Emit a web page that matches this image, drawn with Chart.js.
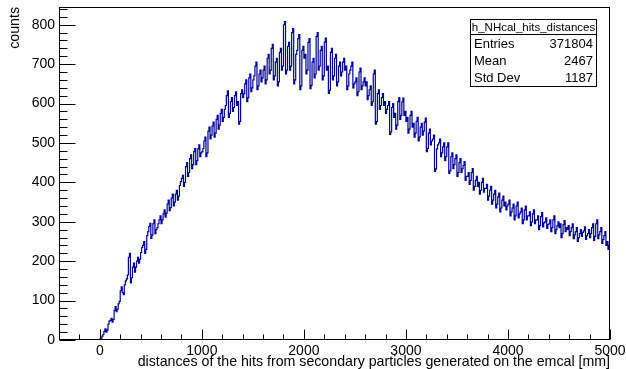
<!DOCTYPE html>
<html>
<head>
<meta charset="utf-8">
<script src="https://cdn.jsdelivr.net/npm/chart.js@4.4.0/dist/chart.umd.min.js"></script>
<style>
  html, body { margin: 0; padding: 0; background: #fff; }
  canvas { display: block; }
</style>
</head>
<body>
<canvas id="myChart" width="626" height="369"></canvas>
<script>
var ctx = document.getElementById('myChart').getContext('2d');

// histogram axis range and binning
var axisMin = -400;
var axisMax = 5000;
var yMax = 845;
var binLow = 0;
var binWidth = 10;

// bin contents, 10 mm bins from 0 to 5000
var counts = [
    2, 5, 10, 14, 22, 28, 20, 25, 40, 48, 50, 55, 45, 52, 75, 85, 72, 78, 92, 98,                      // 0 - 200
    125, 135, 120, 115, 140, 150, 155, 165, 210, 220, 145, 158, 185, 195, 172, 185, 200, 210, 195, 205, // 200 - 400
    222, 235, 240, 250, 220, 230, 265, 275, 288, 296, 258, 266, 295, 305, 270, 280, 285, 295, 305, 315, // 400 - 600
    295, 305, 320, 330, 312, 322, 345, 355, 328, 336, 360, 370, 340, 350, 370, 380, 355, 365, 392, 402, // 600 - 800
    410, 418, 390, 400, 440, 450, 415, 425, 460, 470, 435, 445, 478, 486, 445, 455, 485, 495, 465, 475, // 800 - 1000
    478, 486, 505, 515, 465, 475, 530, 540, 510, 520, 543, 553, 515, 525, 560, 570, 535, 545, 575, 585, // 1000 - 1200
    555, 565, 585, 595, 620, 632, 565, 575, 605, 615, 580, 590, 620, 630, 595, 605, 548, 555, 625, 635, // 1200 - 1400
    615, 625, 650, 660, 605, 615, 665, 675, 630, 640, 660, 670, 695, 705, 635, 645, 675, 685, 655, 665, // 1400 - 1600
    685, 695, 650, 660, 715, 725, 675, 685, 740, 750, 660, 670, 705, 715, 645, 655, 730, 740, 685, 695, // 1600 - 1800
    800, 808, 675, 685, 745, 755, 685, 695, 780, 790, 650, 660, 725, 735, 765, 775, 635, 645, 735, 745, // 1800 - 2000
    715, 725, 675, 685, 755, 765, 638, 646, 705, 715, 665, 675, 770, 780, 685, 695, 735, 745, 660, 670, // 2000 - 2200
    756, 766, 685, 695, 626, 634, 730, 740, 660, 670, 715, 725, 645, 655, 695, 705, 670, 680, 705, 715, // 2200 - 2400
    685, 695, 635, 645, 675, 685, 695, 705, 640, 650, 655, 665, 620, 630, 680, 690, 635, 645, 655, 665, // 2400 - 2600
    645, 655, 610, 620, 635, 645, 595, 605, 675, 685, 548, 554, 625, 635, 585, 595, 615, 625, 595, 605, // 2600 - 2800
    575, 585, 595, 605, 522, 528, 590, 600, 565, 575, 535, 545, 605, 615, 560, 570, 604, 614, 570, 580, // 2800 - 3000
    555, 565, 525, 535, 570, 580, 540, 550, 515, 525, 555, 565, 505, 515, 540, 550, 520, 530, 553, 563, // 3000 - 3200
    478, 486, 525, 535, 495, 505, 510, 520, 428, 434, 485, 495, 500, 510, 465, 475, 490, 500, 455, 465, // 3200 - 3400
    490, 500, 423, 429, 465, 475, 435, 445, 460, 470, 415, 425, 450, 460, 425, 435, 443, 453, 405, 415, // 3400 - 3600
    415, 425, 395, 405, 425, 435, 380, 390, 405, 415, 390, 400, 370, 380, 400, 410, 375, 385, 385, 395, // 3600 - 3800
    355, 365, 380, 390, 345, 355, 370, 380, 335, 345, 363, 373, 325, 335, 355, 365, 340, 350, 330, 340, // 3800 - 4000
    345, 355, 315, 325, 335, 345, 305, 315, 340, 350, 310, 320, 325, 335, 295, 305, 330, 340, 305, 315, // 4000 - 4200
    315, 325, 290, 300, 320, 330, 295, 305, 305, 315, 280, 290, 313, 323, 287, 297, 300, 310, 283, 293, // 4200 - 4400
    295, 305, 275, 285, 305, 315, 270, 280, 290, 300, 285, 295, 260, 270, 293, 303, 275, 285, 280, 290, // 4400 - 4600
    265, 275, 285, 295, 257, 267, 275, 285, 250, 260, 270, 280, 263, 273, 277, 287, 255, 265, 270, 280, // 4600 - 4800
    260, 270, 285, 295, 253, 263, 295, 305, 257, 267, 275, 285, 245, 255, 265, 275, 240, 250, 230, 240  // 4800 - 5000
];

// tick labels
var xTickValues = [0, 1000, 2000, 3000, 4000, 5000];
var yTickValues = [0, 100, 200, 300, 400, 500, 600, 700, 800];

// texts
var xTitle = 'distances of the hits from secondary particles generated on the emcal [mm]';
var yTitle = 'counts';
var statsTitle = 'h_NHcal_hits_distances';
var statsNames = ['Entries', 'Mean', 'Std Dev'];
var statsValues = ['371804', '2467', '1187'];

var lineColor = '#000099';
var fontFamily = '"Liberation Sans", Arial, Helvetica, sans-serif';

// bin low edges -> step points
var points = [{ x: axisMin, y: 0 }];
counts.forEach(function (c, i) {
    points.push({ x: binLow + i * binWidth, y: c });
});
points.push({ x: binLow + counts.length * binWidth, y: counts[counts.length - 1] });

// ROOT-like frame, ticks inside, axis titles and the stats box
var rootFrame = {
    id: 'rootFrame',
    afterDraw: function (chart) {
        var c = chart.ctx;
        var a = chart.chartArea;
        var x = chart.scales.x;
        var y = chart.scales.y;
        var L = Math.round(a.left) + 0.5, R = Math.round(a.right) - 0.5;
        var T = Math.round(a.top) + 0.5, B = Math.round(a.bottom) - 0.5;
        c.save();
        c.strokeStyle = '#000';
        c.lineWidth = 1;
        c.strokeRect(L, T, R - L, B - T);

        c.beginPath();
        for (var v = axisMin; v <= axisMax; v += 200) {
            var px = Math.round(x.getPixelForValue(v)) + 0.5;
            var len = (v % 1000 === 0) ? 10 : 5;
            c.moveTo(px, B);
            c.lineTo(px, B - len);
        }
        for (var w = 0; w <= yMax; w += 20) {
            var py = Math.round(y.getPixelForValue(w)) + 0.5;
            var len2 = (w % 100 === 0) ? 16 : 8;
            c.moveTo(L, py);
            c.lineTo(L + len2, py);
        }
        c.stroke();

        // axis titles
        c.fillStyle = '#000';
        c.font = '14.2px ' + fontFamily;
        c.textAlign = 'right';
        c.textBaseline = 'alphabetic';
        c.fillText(xTitle, Math.round(a.right), 366);
        c.save();
        c.translate(19, Math.round(a.top));
        c.rotate(-Math.PI / 2);
        c.textAlign = 'right';
        c.fillText(yTitle, 0, 0);
        c.restore();

        // stats box
        var bx = 470.5, by = 19.5, bw = 126, bh = 67;
        c.fillStyle = '#fff';
        c.fillRect(bx, by, bw, bh);
        c.strokeRect(bx, by, bw, bh);
        c.beginPath();
        c.moveTo(bx, 34.5);
        c.lineTo(bx + bw, 34.5);
        c.stroke();
        c.fillStyle = '#000';
        c.font = '11.5px ' + fontFamily;
        c.textAlign = 'center';
        c.fillText(statsTitle, bx + bw / 2, 31);
        c.font = '13px ' + fontFamily;
        var rowsY = [48, 65, 82];
        statsNames.forEach(function (n, i) {
            c.textAlign = 'left';
            c.fillText(n, 474, rowsY[i]);
            c.textAlign = 'right';
            c.fillText(statsValues[i], 593, rowsY[i]);
        });
        c.restore();
    }
};

var chart = new Chart(ctx, {
    type: 'line',
    data: {
        datasets: [{
            label: statsTitle,
            data: points,
            borderColor: lineColor,
            borderWidth: 1.2,
            stepped: true,
            pointRadius: 0,
            fill: false,
            tension: 0
        }]
    },
    options: {
        responsive: false,
        animation: false,
        layout: { padding: { top: 7, right: 16, left: 0, bottom: 0 } },
        plugins: {
            legend: { display: false },
            tooltip: { enabled: false }
        },
        scales: {
            x: {
                type: 'linear',
                min: axisMin,
                max: axisMax,
                grid: { display: false, drawTicks: false },
                border: { display: false },
                afterBuildTicks: function (s) {
                    s.ticks = xTickValues.map(function (v) { return { value: v }; });
                },
                afterFit: function (s) {
                    s.height = 29;
                    s.paddingLeft = 0;
                    s.paddingRight = 0;
                },
                ticks: {
                    autoSkip: false,
                    maxRotation: 0,
                    padding: 3,
                    color: '#000',
                    font: { family: fontFamily, size: 14 },
                    callback: function (v) { return String(v); }
                }
            },
            y: {
                type: 'linear',
                min: 0,
                max: yMax,
                grid: { display: false, drawTicks: false },
                border: { display: false },
                afterBuildTicks: function (s) {
                    s.ticks = yTickValues.map(function (v) { return { value: v }; });
                },
                afterFit: function (s) {
                    s.width = 59;
                    s.paddingTop = 0;
                    s.paddingBottom = 0;
                },
                ticks: {
                    padding: 4,
                    color: '#000',
                    font: { family: fontFamily, size: 14 },
                    callback: function (v) { return String(v); }
                }
            }
        }
    },
    plugins: [rootFrame]
});
</script>
</body>
</html>
